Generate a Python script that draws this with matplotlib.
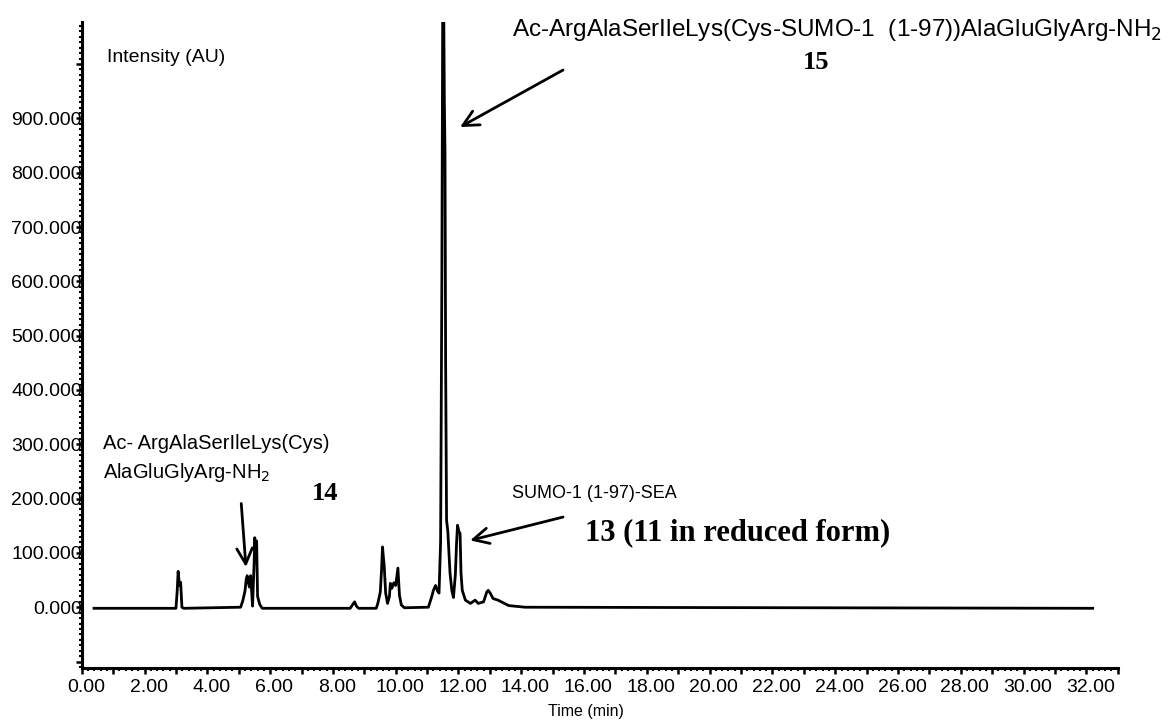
import matplotlib.pyplot as plt
from matplotlib.ticker import MultipleLocator, FuncFormatter
from matplotlib.transforms import ScaledTranslation

plt.rcParams['font.family'] = ['Liberation Sans', 'DejaVu Sans']

# chromatogram trace, vertices
time_min = [0.39, 3.00, 3.04, 3.07, 3.11, 3.15, 3.19, 3.25,
            5.06, 5.13, 5.20, 5.24, 5.27, 5.31, 5.34, 5.38, 5.41, 5.44,
            5.47, 5.49, 5.51, 5.54, 5.57, 5.60, 5.67, 5.75,
            8.55, 8.62, 8.69, 8.75, 8.82,
            9.38, 9.43, 9.51, 9.55, 9.58, 9.61, 9.63, 9.68, 9.74, 9.80,
            9.83, 9.88, 9.94, 10.00, 10.07, 10.12, 10.18, 10.28,
            11.04, 11.15, 11.20, 11.27, 11.33, 11.38, 11.43, 11.47, 11.50,
            11.53, 11.55, 11.57, 11.59, 11.62, 11.66, 11.73, 11.79, 11.84,
            11.90, 11.94, 11.97, 12.01, 12.05, 12.08, 12.12, 12.22, 12.38,
            12.53, 12.63, 12.80, 12.90, 12.95, 13.02, 13.10, 13.26, 13.43,
            13.60, 14.12, 32.2]
intensity = [-2, -2, 30, 66, 40, 46, 0, -2,
             0, 12, 30, 52, 58, 45, 37, 58, 30, 2,
             50, 80, 128, 95, 122, 20, 5, -2,
             -2, 4, 10, 2, -2,
             -2, 7, 28, 70, 111, 90, 80, 26, 7, 20,
             44, 35, 45, 40, 72, 22, 4, -1,
             0, 20, 31, 40, 30, 26, 120, 600, 1150,
             1100, 930, 840, 450, 160, 140, 63, 30, 18,
             60, 120, 151, 140, 136, 63, 31, 13, 7,
             13, 7, 10, 28, 31, 25, 16, 13, 8,
             3, 0, -2]

fig = plt.figure(figsize=(11.68, 7.23), dpi=100)
ax = fig.add_axes([0.070, 0.076, 0.887, 0.894])
ax.plot(time_min, intensity, color='black', lw=2.0)

ax.set_xlim(0, 33.0)
ax.set_ylim(-112, 1078)
for s in ['top', 'right']:
    ax.spines[s].set_visible(False)
for s in ['left', 'bottom']:
    ax.spines[s].set_linewidth(2.2)

ax.xaxis.set_major_locator(MultipleLocator(1))
ax.xaxis.set_minor_locator(MultipleLocator(0.2))
ax.xaxis.set_major_formatter(FuncFormatter(
    lambda v, p: '%.2f' % v if round(v) % 2 == 0 and v <= 32 else ''))
ax.yaxis.set_major_locator(MultipleLocator(100))
ax.yaxis.set_minor_locator(MultipleLocator(10))
ax.yaxis.set_major_formatter(FuncFormatter(
    lambda v, p: '%.3f' % v if 0 <= v <= 900 else ''))

ax.tick_params(axis='x', which='major', length=4, width=1.8, labelsize=14, pad=4)
ax.tick_params(axis='x', which='minor', length=2, width=1.5)
ax.tick_params(axis='y', which='major', length=4, width=1.8, labelsize=14, pad=-4)
ax.tick_params(axis='y', which='minor', length=2, width=1.5)
ax.set_xlabel('Time (min)', fontsize=11.5)
ax.xaxis.set_label_coords(0.487, -0.056)

shift = ScaledTranslation(0.04, 0, fig.dpi_scale_trans)
for lab in ax.get_xticklabels():
    lab.set_transform(lab.get_transform() + shift)

fig.text(0.0916, 0.921, 'Intensity (AU)', fontsize=14, va='center')
fig.text(0.438, 0.958, 'Ac-ArgAlaSerIleLys(Cys-SUMO-1  (1-97))AlaGluGlyArg-NH$_2$',
         fontsize=17.5, va='center')
fig.text(0.699, 0.914, '15', fontsize=19, fontweight='bold',
         family='Liberation Serif', ha='center', va='center')
fig.text(0.088, 0.387, 'Ac- ArgAlaSerIleLys(Cys)', fontsize=14.5, va='center')
fig.text(0.088, 0.346, 'AlaGluGlyArg-NH$_2$', fontsize=14.5, va='center')
fig.text(0.278, 0.318, '14', fontsize=19, fontweight='bold',
         family='Liberation Serif', ha='center', va='center')
fig.text(0.438, 0.318, 'SUMO-1 (1-97)-SEA', fontsize=13, va='center')
fig.text(0.501, 0.263, '13 (11 in reduced form)', fontsize=22, fontweight='bold',
         family='Liberation Serif', va='center')

arrow = dict(arrowstyle='->', color='black', lw=2, mutation_scale=28,
             shrinkA=0, shrinkB=0)
ax.annotate('', xy=(12.05, 884), xytext=(15.33, 989), arrowprops=arrow)
ax.annotate('', xy=(5.23, 74), xytext=(5.08, 191), arrowprops=arrow)
ax.annotate('', xy=(12.37, 123), xytext=(15.33, 166), arrowprops=arrow)

fig.savefig('out.png', dpi=100)
